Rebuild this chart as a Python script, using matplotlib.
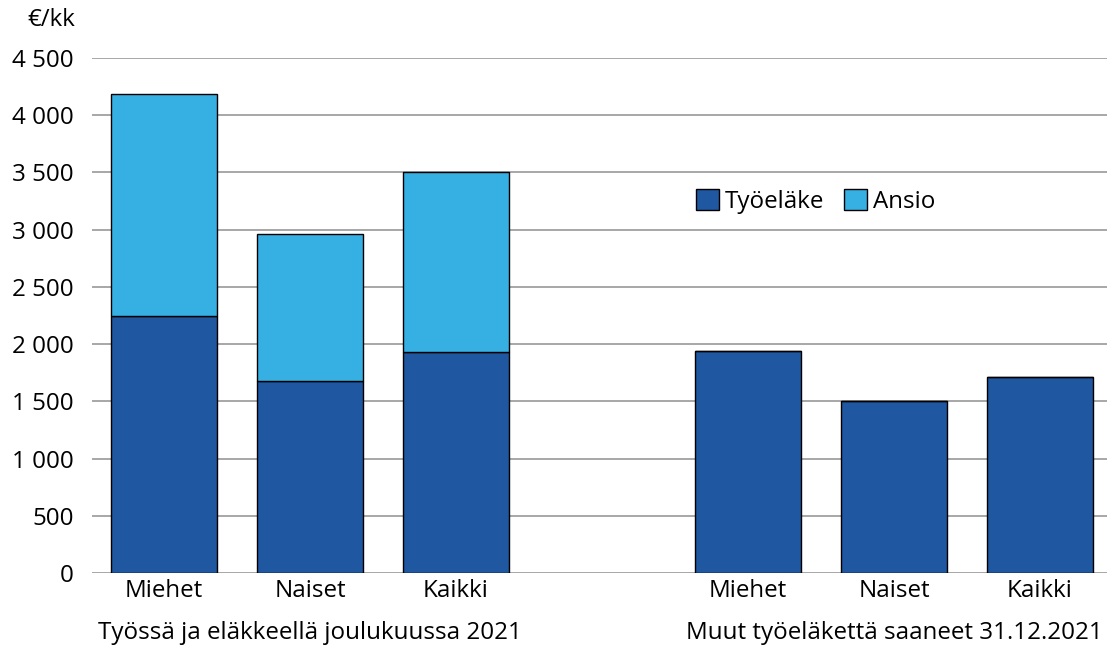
import matplotlib
matplotlib.use("Agg")
import matplotlib.pyplot as plt
import matplotlib.transforms as mtransforms
from matplotlib.patches import Patch

plt.rcParams['font.family'] = ['Open Sans', 'DejaVu Sans']

categories = ["Miehet", "Naiset", "Kaikki", "", "Miehet", "Naiset", "Kaikki"]
tyoelake = [2246, 1678, 1931, 0, 1940, 1503, 1713]
ansio = [1940, 1284, 1573, 0, 0, 0, 0]
group_labels = ["Työssä ja eläkkeellä joulukuussa 2021", "Muut työeläkettä saaneet 31.12.2021"]
yticks = [0, 500, 1000, 1500, 2000, 2500, 3000, 3500, 4000, 4500]
ytick_labels = ["0", "500", "1 000", "1 500", "2 000", "2 500", "3 000", "3 500", "4 000", "4 500"]

dark = "#1f57a0"
light = "#36b0e3"
fs = 17.4

fig = plt.figure(figsize=(11.08, 6.48), dpi=100)
ax = fig.add_axes([92/1108, 1-573/648, 1015/1108, 515/648])

idx = [i for i, c in enumerate(categories) if c]
x = idx
w = 0.726
ax.bar(x, [tyoelake[i] for i in idx], width=w, color=dark, edgecolor="black", linewidth=1, zorder=3)
ax.bar(x, [ansio[i] for i in idx], bottom=[tyoelake[i] for i in idx], width=w,
       color=light, edgecolor="black", linewidth=1, zorder=3)

ax.set_xlim(-0.493, 6.459)
ax.set_ylim(0, 4500)
ax.set_yticks(yticks)
ax.set_yticklabels(ytick_labels, fontsize=fs)
ax.grid(axis="y", color="#a0a0a0", linewidth=1.3, zorder=0)
ax.set_xticks(x)
ax.set_xticklabels([categories[i] for i in idx], fontsize=fs)
ax.tick_params(axis="y", length=0, pad=13)
ax.tick_params(axis="x", length=0, pad=4)
for s in ax.spines.values():
    s.set_visible(False)

trans = mtransforms.blended_transform_factory(ax.transData, fig.transFigure)
ax.text(1, 1-633/648, group_labels[0], transform=trans, ha="center", va="center", fontsize=fs)
ax.text(5, 1-633/648, group_labels[1], transform=trans, ha="center", va="center", fontsize=fs)
fig.text(75/1108, 1-20/648, "€/kk", ha="right", va="center", fontsize=fs)

handles = [Patch(facecolor=dark, edgecolor="black", label="Työeläke"),
           Patch(facecolor=light, edgecolor="black", label="Ansio")]
ax.legend(handles=handles, loc="center left", bbox_to_anchor=(0.595, 0.722), ncol=2, frameon=False,
          fontsize=fs, handlelength=0.95, handleheight=0.95, handletextpad=0.25, columnspacing=0.8,
          borderaxespad=0, borderpad=0)

fig.savefig("out.png", dpi=100)
